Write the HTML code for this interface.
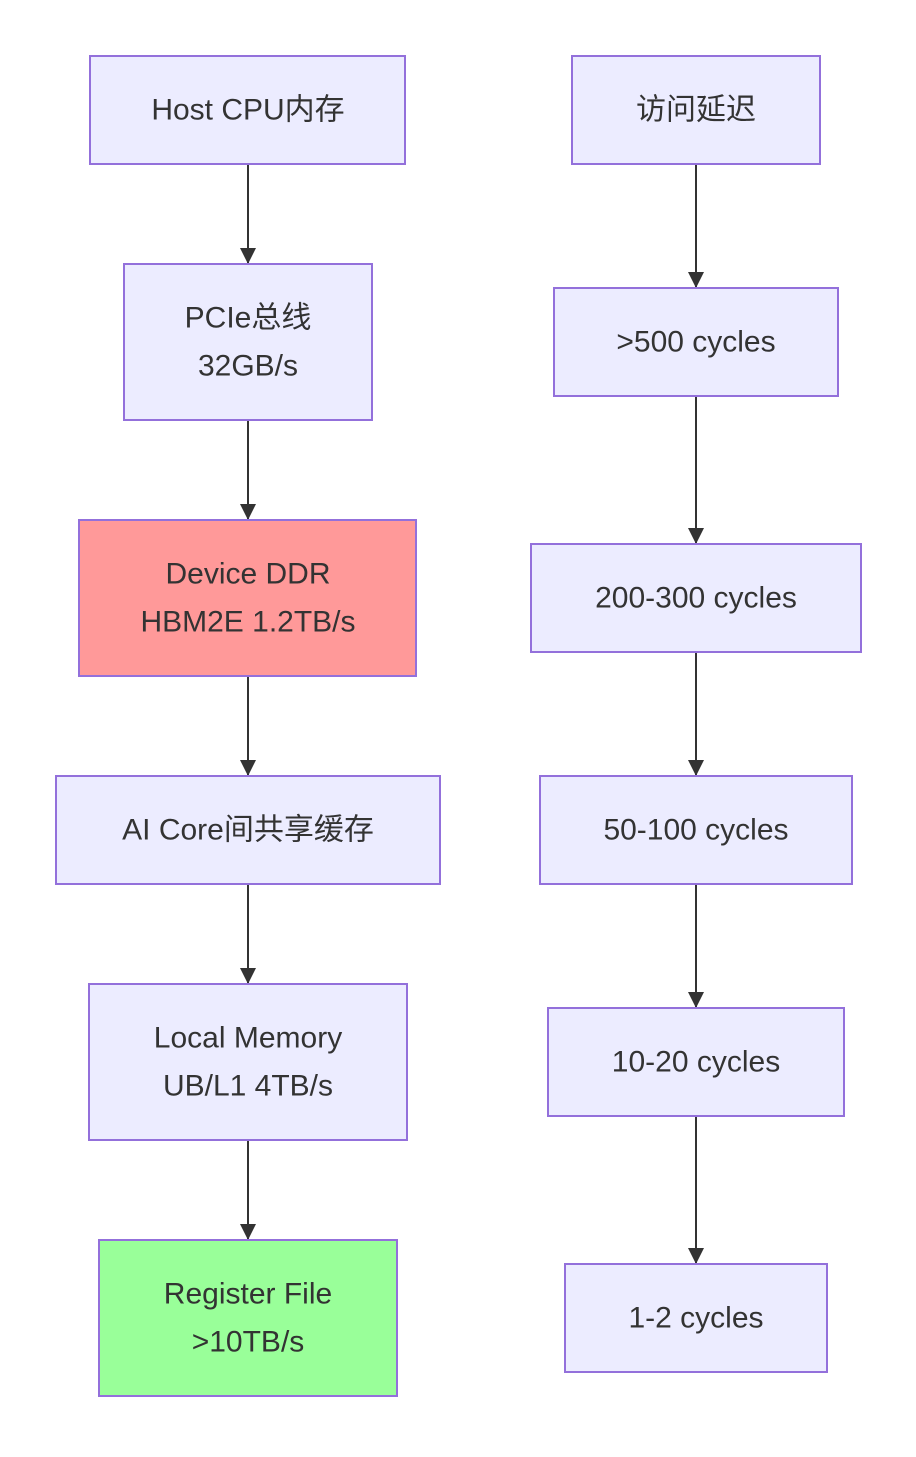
<!DOCTYPE html>
<html><head><meta charset="utf-8"><style>
html,body{margin:0;padding:0;background:#fff;}
text{font-family:"Liberation Sans","Noto Sans CJK SC",sans-serif;font-size:30px;fill:#333;text-anchor:middle;dominant-baseline:central;}
rect{stroke:#9370DB;stroke-width:2;fill:#ECECFF;}
line{stroke:#333;stroke-width:2;}
</style></head><body>
<svg width="916" height="1452" viewBox="0 0 916 1452" xmlns="http://www.w3.org/2000/svg">
<defs><marker id="a" viewBox="0 0 10 10" refX="10" refY="5" markerWidth="16" markerHeight="16" orient="auto" markerUnits="userSpaceOnUse"><path d="M0,0L10,5L0,10z" fill="#333"/></marker>
</defs>
<line x1="248" y1="164" x2="248" y2="264" marker-end="url(#a)"/>
<line x1="248" y1="420" x2="248" y2="520" marker-end="url(#a)"/>
<line x1="248" y1="676" x2="248" y2="776" marker-end="url(#a)"/>
<line x1="248" y1="884" x2="248" y2="984" marker-end="url(#a)"/>
<line x1="248" y1="1140" x2="248" y2="1240" marker-end="url(#a)"/>
<line x1="696" y1="164" x2="696" y2="288" marker-end="url(#a)"/>
<line x1="696" y1="396" x2="696" y2="544" marker-end="url(#a)"/>
<line x1="696" y1="652" x2="696" y2="776" marker-end="url(#a)"/>
<line x1="696" y1="884" x2="696" y2="1008" marker-end="url(#a)"/>
<line x1="696" y1="1116" x2="696" y2="1264" marker-end="url(#a)"/>
<rect x="90" y="56" width="315" height="108"/><text x="248" y="110">Host CPU内存</text>
<rect x="124" y="264" width="248" height="156"/><text x="248" y="318">PCIe总线</text><text x="248" y="366">32GB/s</text>
<rect x="79" y="520" width="337" height="156" style="fill:#ff9999"/><text x="248" y="574">Device DDR</text><text x="248" y="622">HBM2E 1.2TB/s</text>
<rect x="56" y="776" width="384" height="108"/><text x="248" y="830">AI Core间共享缓存</text>
<rect x="89" y="984" width="318" height="156"/><text x="248" y="1038">Local Memory</text><text x="248" y="1086">UB/L1 4TB/s</text>
<rect x="99" y="1240" width="298" height="156" style="fill:#99ff99"/><text x="248" y="1294">Register File</text><text x="248" y="1342">&gt;10TB/s</text>
<rect x="572" y="56" width="248" height="108"/><text x="696" y="110">访问延迟</text>
<rect x="554" y="288" width="284" height="108"/><text x="696" y="342">&gt;500 cycles</text>
<rect x="531" y="544" width="330" height="108"/><text x="696" y="598">200-300 cycles</text>
<rect x="540" y="776" width="312" height="108"/><text x="696" y="830">50-100 cycles</text>
<rect x="548" y="1008" width="296" height="108"/><text x="696" y="1062">10-20 cycles</text>
<rect x="565" y="1264" width="262" height="108"/><text x="696" y="1318">1-2 cycles</text>
</svg>
</body></html>
